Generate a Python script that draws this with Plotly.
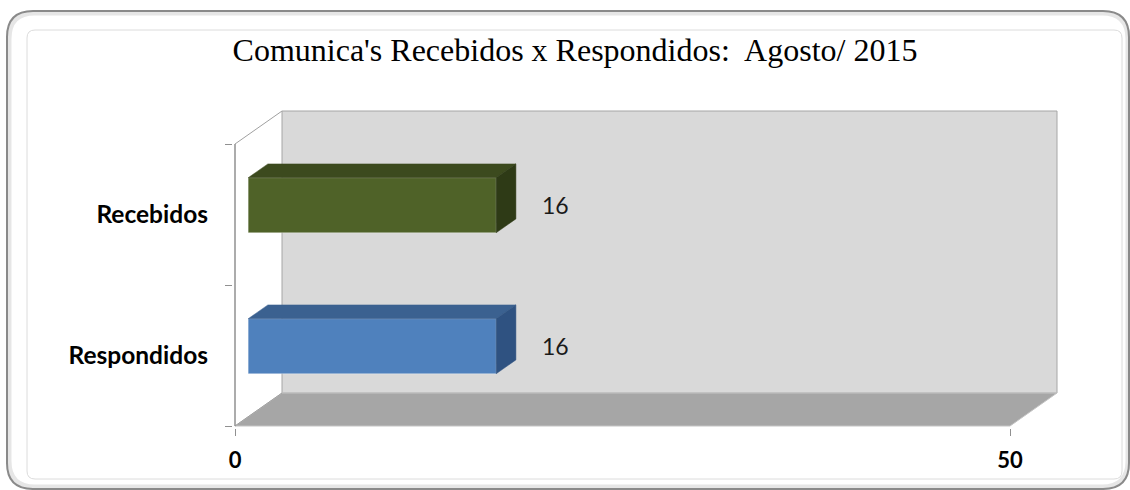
import plotly.graph_objects as go

# ---- data ----
categories = ["Respondidos", "Recebidos"]
values = [16, 16]
axis_max = 50
x_ticks = [0, 50]
title_text = "Comunica's Recebidos x Respondidos:  Agosto/ 2015"

# ---- styling / geometry ----
front_colors = ["#4f81bd", "#4f6228"]
top_colors = ["#3b6190", "#3c4a1e"]
side_colors = ["#2f5281", "#2e3a16"]

W, H = 1130, 490
PX_PER_X = 15.5          # pixels per value unit
PX_PER_Y = 141.0         # pixels per category
L_PX, R_PX = 233, 1062
T_PX, B_PX = 100, 428
x_min = -(235 - L_PX) / PX_PER_X
x_max = x_min + (R_PX - L_PX) / PX_PER_X
y_min = -0.5 - (B_PX - 426) / PX_PER_Y
y_max = y_min + (B_PX - T_PX) / PX_PER_Y

DX = 47 / PX_PER_X       # depth offset of back wall (value units)
DY = 33 / PX_PER_Y       # depth offset of back wall (category units)
f0, f1 = 0.28, 0.70      # bar front/back depth fractions
h = 0.195                # bar half height

n = len(categories)
ylo, yhi = -0.5, n - 0.5

fig = go.Figure()

def path_of(xs, ys):
    s = f"M {xs[0]},{ys[0]} " + " ".join(f"L {a},{b}" for a, b in zip(xs[1:], ys[1:]))
    return s + " Z"

def poly(xs, ys, fill, line_color, lw=1):
    fig.add_trace(go.Scatter(x=xs + [xs[0]], y=ys + [ys[0]], mode="lines",
                             fill="toself", fillcolor=fill,
                             line=dict(color=line_color, width=lw),
                             hoverinfo="skip", showlegend=False))

# back wall (below traces)
fig.add_shape(type="path", xref="x", yref="y", layer="below",
              path=path_of([DX, axis_max + DX, axis_max + DX, DX],
                           [ylo + DY, ylo + DY, yhi + DY, yhi + DY]),
              fillcolor="#d9d9d9", line=dict(color="#a6a6a6", width=1))
# floor
fig.add_shape(type="path", xref="x", yref="y", layer="below",
              path=path_of([0, axis_max, axis_max + DX, DX],
                           [ylo, ylo, ylo + DY, ylo + DY]),
              fillcolor="#a6a6a6", line=dict(color="#c4c4c4", width=1))
# side wall outline + front axis
fig.add_shape(type="line", xref="x", yref="y", layer="below",
              x0=0, y0=yhi, x1=DX, y1=yhi + DY, line=dict(color="#a0a0a0", width=1))
fig.add_shape(type="line", xref="x", yref="y", layer="below",
              x0=0, y0=ylo, x1=DX, y1=ylo + DY, line=dict(color="#a0a0a0", width=1))
fig.add_shape(type="line", xref="x", yref="y", layer="below",
              x0=0, y0=ylo, x1=0, y1=yhi, line=dict(color="#909090", width=1.5))

# bars
for i, (cat, v) in enumerate(zip(categories, values)):
    yc0 = i + f0 * DY
    yc1 = i + f1 * DY
    x0 = f0 * DX
    x1 = f1 * DX
    # top face
    poly([x0, v + x0, v + x1, x1], [yc0 + h, yc0 + h, yc1 + h, yc1 + h],
         top_colors[i], top_colors[i], 0.5)
    # side face
    poly([v + x0, v + x0, v + x1, v + x1], [yc0 - h, yc0 + h, yc1 + h, yc1 - h],
         side_colors[i], side_colors[i], 0.5)
    # front face
    fig.add_trace(go.Bar(orientation="h", x=[v], base=[x0], y=[yc0], width=2 * h,
                         marker=dict(color=front_colors[i],
                                     line=dict(color="rgba(255,255,255,0.35)", width=1)),
                         hoverinfo="skip", showlegend=False))
    fig.add_annotation(x=v + x0, y=yc0, text=str(v), showarrow=False,
                       xanchor="left", yanchor="middle", xshift=44,
                       font=dict(family="Lato", size=23, color="#1a1a1a"))

# frame (rounded rectangles) in pixel -> paper coords
def px(p):
    return (p - L_PX) / (R_PX - L_PX)

def py(p):
    return (B_PX - p) / (B_PX - T_PX)

def rounded(x0, y0, x1, y1, r):
    pts = [
        ("M", [(x0 + r, y0)]), ("L", [(x1 - r, y0)]), ("Q", [(x1, y0), (x1, y0 + r)]),
        ("L", [(x1, y1 - r)]), ("Q", [(x1, y1), (x1 - r, y1)]),
        ("L", [(x0 + r, y1)]), ("Q", [(x0, y1), (x0, y1 - r)]),
        ("L", [(x0, y0 + r)]), ("Q", [(x0, y0), (x0 + r, y0)]),
    ]
    s = ""
    for cmd, ps in pts:
        s += cmd + " " + " ".join(f"{px(a):.5f},{py(b):.5f}" for a, b in ps) + " "
    return s + "Z"

fig.add_shape(type="path", xref="paper", yref="paper",
              path=rounded(9, 13, 1128, 487, 26),
              line=dict(color="#e6e6e6", width=5), layer="below")
fig.add_shape(type="path", xref="paper", yref="paper",
              path=rounded(7, 11, 1129, 489, 26),
              line=dict(color="#8a8a8a", width=2), layer="below")
fig.add_shape(type="path", xref="paper", yref="paper",
              path=rounded(27, 30, 1122, 479, 8),
              line=dict(color="#dcdcdc", width=1), layer="below")

fig.update_layout(
    width=W, height=H,
    margin=dict(l=L_PX, r=W - R_PX, t=T_PX, b=H - B_PX),
    paper_bgcolor="white", plot_bgcolor="rgba(0,0,0,0)",
    barmode="overlay",
    title=dict(text=title_text, x=575 / W, xref="container", xanchor="center",
               y=1 - 50 / H, yref="container", yanchor="middle",
               font=dict(family="Liberation Serif", size=32, color="black")),
    xaxis=dict(range=[x_min, x_max], tickvals=x_ticks, ticktext=[str(t) for t in x_ticks],
               ticks="outside", ticklen=7, tickcolor="#909090",
               showgrid=False, zeroline=False, showline=False,
               ticklabelstandoff=6,
               tickfont=dict(family="Lato", size=22, color="black", weight="bold")),
    yaxis=dict(range=[y_min, y_max], tickvals=list(range(n)), ticktext=categories,
               ticks="", showgrid=False, zeroline=False, showline=False,
               ticklabelstandoff=24,
               minor=dict(tickvals=[k - 0.5 for k in range(n + 1)], ticks="outside",
                          ticklen=7, tickcolor="#909090", showgrid=False),
               tickfont=dict(family="Lato", size=24.5, color="black", weight="bold")),
)

fig.write_html("out.html", config={"displayModeBar": False},
               post_script="document.body.style.margin='0px';")
